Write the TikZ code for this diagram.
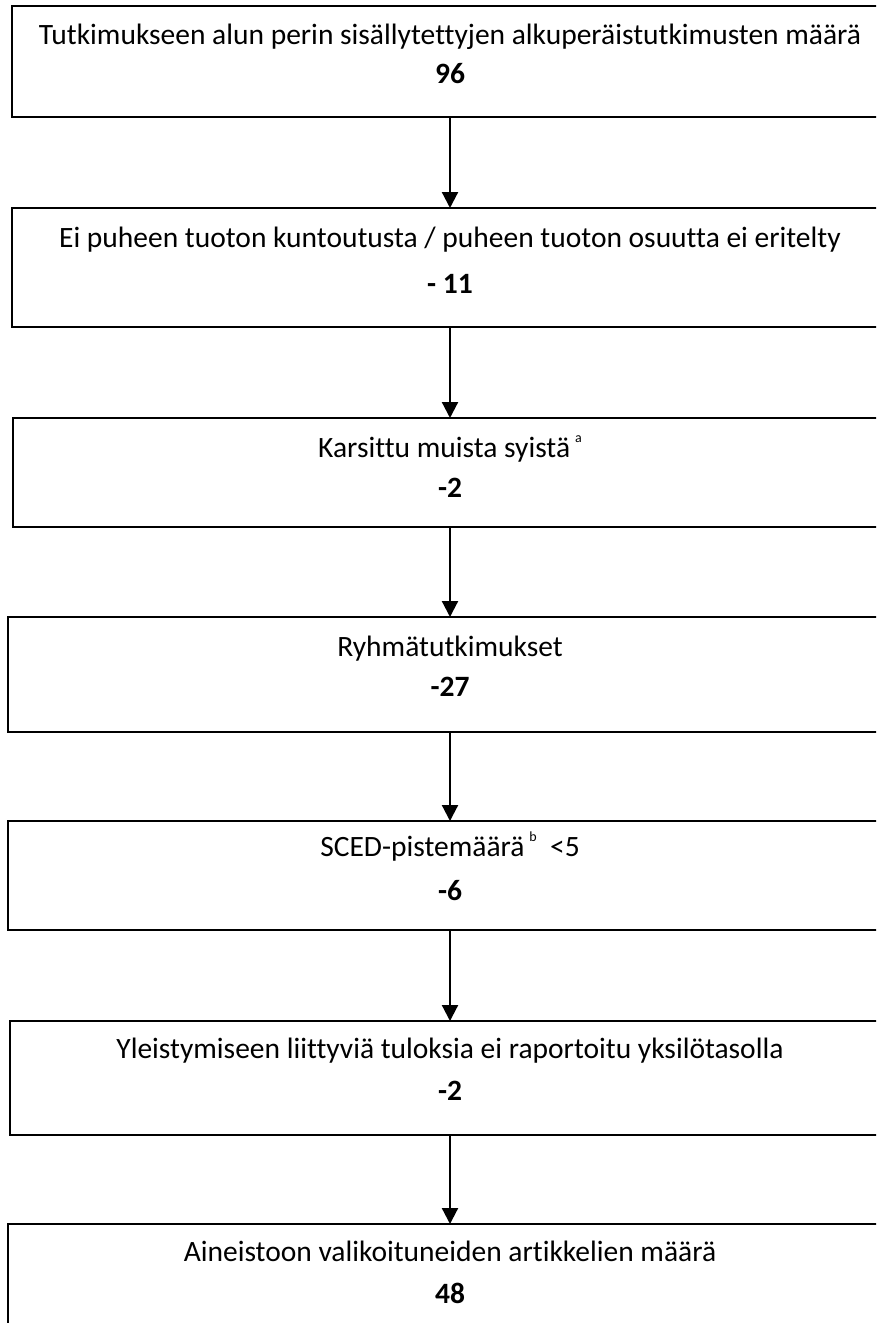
\documentclass[tikz,border=0pt]{standalone}
\usepackage{fontspec}
\setmainfont{Carlito}[RawFeature=-liga]
\usetikzlibrary{arrows.meta}
\tikzset{
  boxnode/.style={draw=black, line width=2pt, minimum width=#1, inner sep=0pt, outer sep=0pt, rectangle},
  txt/.style={anchor=base, inner sep=0pt, font=\fontsize{29.5}{34}\selectfont},
  num/.style={anchor=base, inner sep=0pt, font=\fontsize{29.5}{34}\selectfont\bfseries},
  arr/.style={line width=2.2pt, -{Triangle[width=16pt,length=16pt]}}
}
\newcommand{\supmark}[1]{\,\raisebox{0.5em}{\fontsize{14}{16}\selectfont #1}}
\begin{document}
\begin{tikzpicture}[x=1pt,y=-1pt]
\useasboundingbox (0,0) rectangle (876,1323);
\clip (0,0) rectangle (876,1323);
% boxes: left, top, bottom; right beyond page
\node[boxnode=868pt, minimum height=111pt] (b1) at (446,61.5) {};
\node[boxnode=868pt, minimum height=119pt] (b2) at (446,267.5) {};
\node[boxnode=867pt, minimum height=109pt] (b3) at (446.5,472.5) {};
\node[boxnode=872pt, minimum height=115pt] (b4) at (444,674.5) {};
\node[boxnode=872pt, minimum height=109pt] (b5) at (444,875.5) {};
\node[boxnode=870pt, minimum height=114pt] (b6) at (445,1078) {};
\node[boxnode=872pt, minimum height=200pt] (b7) at (444,1324) {};
% texts
\node[txt] (t1) at (450,44) {Tutkimukseen alun perin sisällytettyjen alkuperäistutkimusten määrä};
\node[num] (n1) at (450,83) {96};
\node[txt] (t2) at (450,247) {Ei puheen tuoton kuntoutusta / puheen tuoton osuutta ei eritelty};
\node[num] (n2) at (450,293) {- 11};
\node[txt] (t3) at (450,457) {Karsittu muista syistä\supmark{a}};
\node[num] (n3) at (450,497) {-2};
\node[txt] (t4) at (450,656) {Ryhmätutkimukset};
\node[num] (n4) at (450,696) {-27};
\node[txt] (t5) at (450,856) {SCED-pistemäärä\supmark{b}\ \ <5};
\node[num] (n5) at (450,900) {-6};
\node[txt] (t6) at (450,1058) {Yleistymiseen liittyviä tuloksia ei raportoitu yksilötasolla};
\node[num] (n6) at (450,1100) {-2};
\node[txt] (t7) at (450,1261) {Aineistoon valikoituneiden artikkelien määrä};
\node[num] (n7) at (450,1303) {48};
% arrows
\draw[arr] (b1.south -| n1.base) -- (b2.north -| n1.base);
\draw[arr] (b2.south -| n1.base) -- (b3.north -| n1.base);
\draw[arr] (b3.south -| n1.base) -- (b4.north -| n1.base);
\draw[arr] (b4.south -| n1.base) -- (b5.north -| n1.base);
\draw[arr] (b5.south -| n1.base) -- (b6.north -| n1.base);
\draw[arr] (b6.south -| n1.base) -- (b7.north -| n1.base);
\end{tikzpicture}
\end{document}
